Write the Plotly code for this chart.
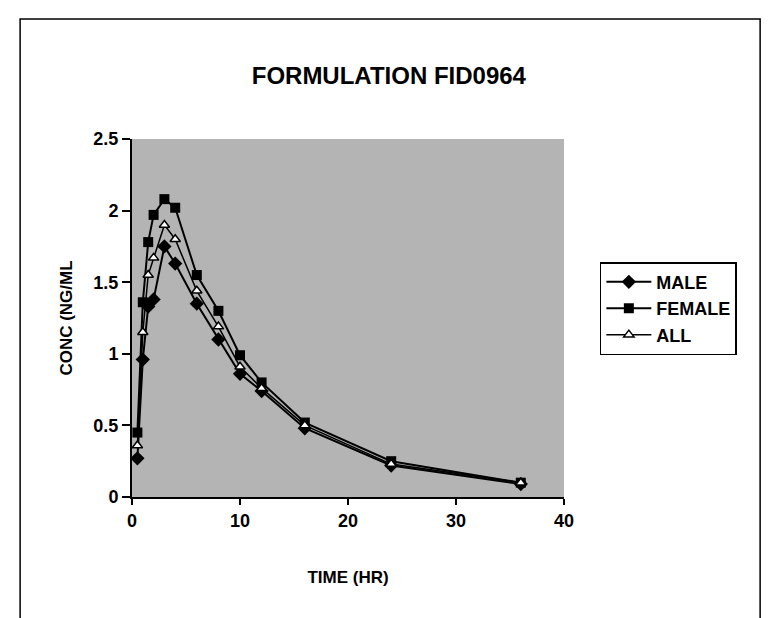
import plotly.graph_objects as go

time_hr = [0.5, 1, 1.5, 2, 3, 4, 6, 8, 10, 12, 16, 24, 36]
male = [0.27, 0.96, 1.33, 1.38, 1.75, 1.63, 1.35, 1.10, 0.86, 0.74, 0.48, 0.22, 0.09]
female = [0.45, 1.36, 1.78, 1.97, 2.08, 2.02, 1.55, 1.30, 0.99, 0.80, 0.52, 0.25, 0.10]
all_ = [0.36, 1.15, 1.55, 1.67, 1.90, 1.80, 1.44, 1.19, 0.91, 0.76, 0.50, 0.23, 0.10]

x_ticks = [0, 10, 20, 30, 40]
y_ticks = [0, 0.5, 1, 1.5, 2, 2.5]
y_tick_labels = ["0", "0.5", "1", "1.5", "2", "2.5"]

FONT = "Liberation Sans, Arial, sans-serif"

fig = go.Figure()
fig.add_trace(go.Scatter(x=time_hr, y=male, name="MALE", mode="lines+markers",
                         line=dict(color="black", width=2),
                         marker=dict(symbol="diamond", size=11, color="black")))
fig.add_trace(go.Scatter(x=time_hr, y=female, name="FEMALE", mode="lines+markers",
                         line=dict(color="black", width=2),
                         marker=dict(symbol="square", size=10, color="black")))
fig.add_trace(go.Scatter(x=time_hr, y=all_, name="ALL", mode="lines+markers",
                         line=dict(color="black", width=1.5),
                         marker=dict(symbol="triangle-up", size=9, color="white",
                                     line=dict(color="black", width=1.5))))

fig.update_layout(
    width=770, height=618,
    margin=dict(l=132, r=206, t=139, b=121),
    paper_bgcolor="white",
    plot_bgcolor="#b4b4b4",
    font=dict(family=FONT, color="black", size=15, weight="bold"),
    title=dict(text="<b>FORMULATION FID0964</b>", x=0.505, xanchor="center",
               y=0.878, yanchor="middle",
               font=dict(family=FONT, size=24, color="black")),
    showlegend=True,
    legend=dict(x=1.083, y=0.656, xanchor="left", yanchor="top",
                bgcolor="white", bordercolor="black", borderwidth=1.5,
                font=dict(family=FONT, size=18, color="black", weight="bold"),
                tracegroupgap=0, itemwidth=45),
    xaxis=dict(range=[0, 40], tickvals=x_ticks, ticks="outside", ticklen=6,
               tickwidth=1.5, tickcolor="black", showline=True, linecolor="black",
               linewidth=2, showgrid=False, zeroline=False, mirror=False,
               tickfont=dict(family=FONT, size=18, weight="bold"),
               title=dict(text="TIME (HR)", standoff=42,
                          font=dict(family=FONT, size=17, weight="bold"))),
    yaxis=dict(range=[0, 2.5], tickvals=y_ticks, ticktext=y_tick_labels,
               ticks="outside", ticklen=8, tickwidth=1.5, tickcolor="black",
               showline=True, linecolor="black", linewidth=2, showgrid=False,
               zeroline=False,
               tickfont=dict(family=FONT, size=18, weight="bold"),
               title=dict(text="CONC (NG/ML", standoff=16,
                          font=dict(family=FONT, size=17, weight="bold"))),
)

# outer frame of the chart area
fig.add_shape(type="rect", xref="paper", yref="paper",
              x0=-0.259, x1=1.454, y0=-0.40, y1=1.335,
              line=dict(color="black", width=1.5), fillcolor="rgba(0,0,0,0)",
              layer="below")

fig.write_html("out.html")
